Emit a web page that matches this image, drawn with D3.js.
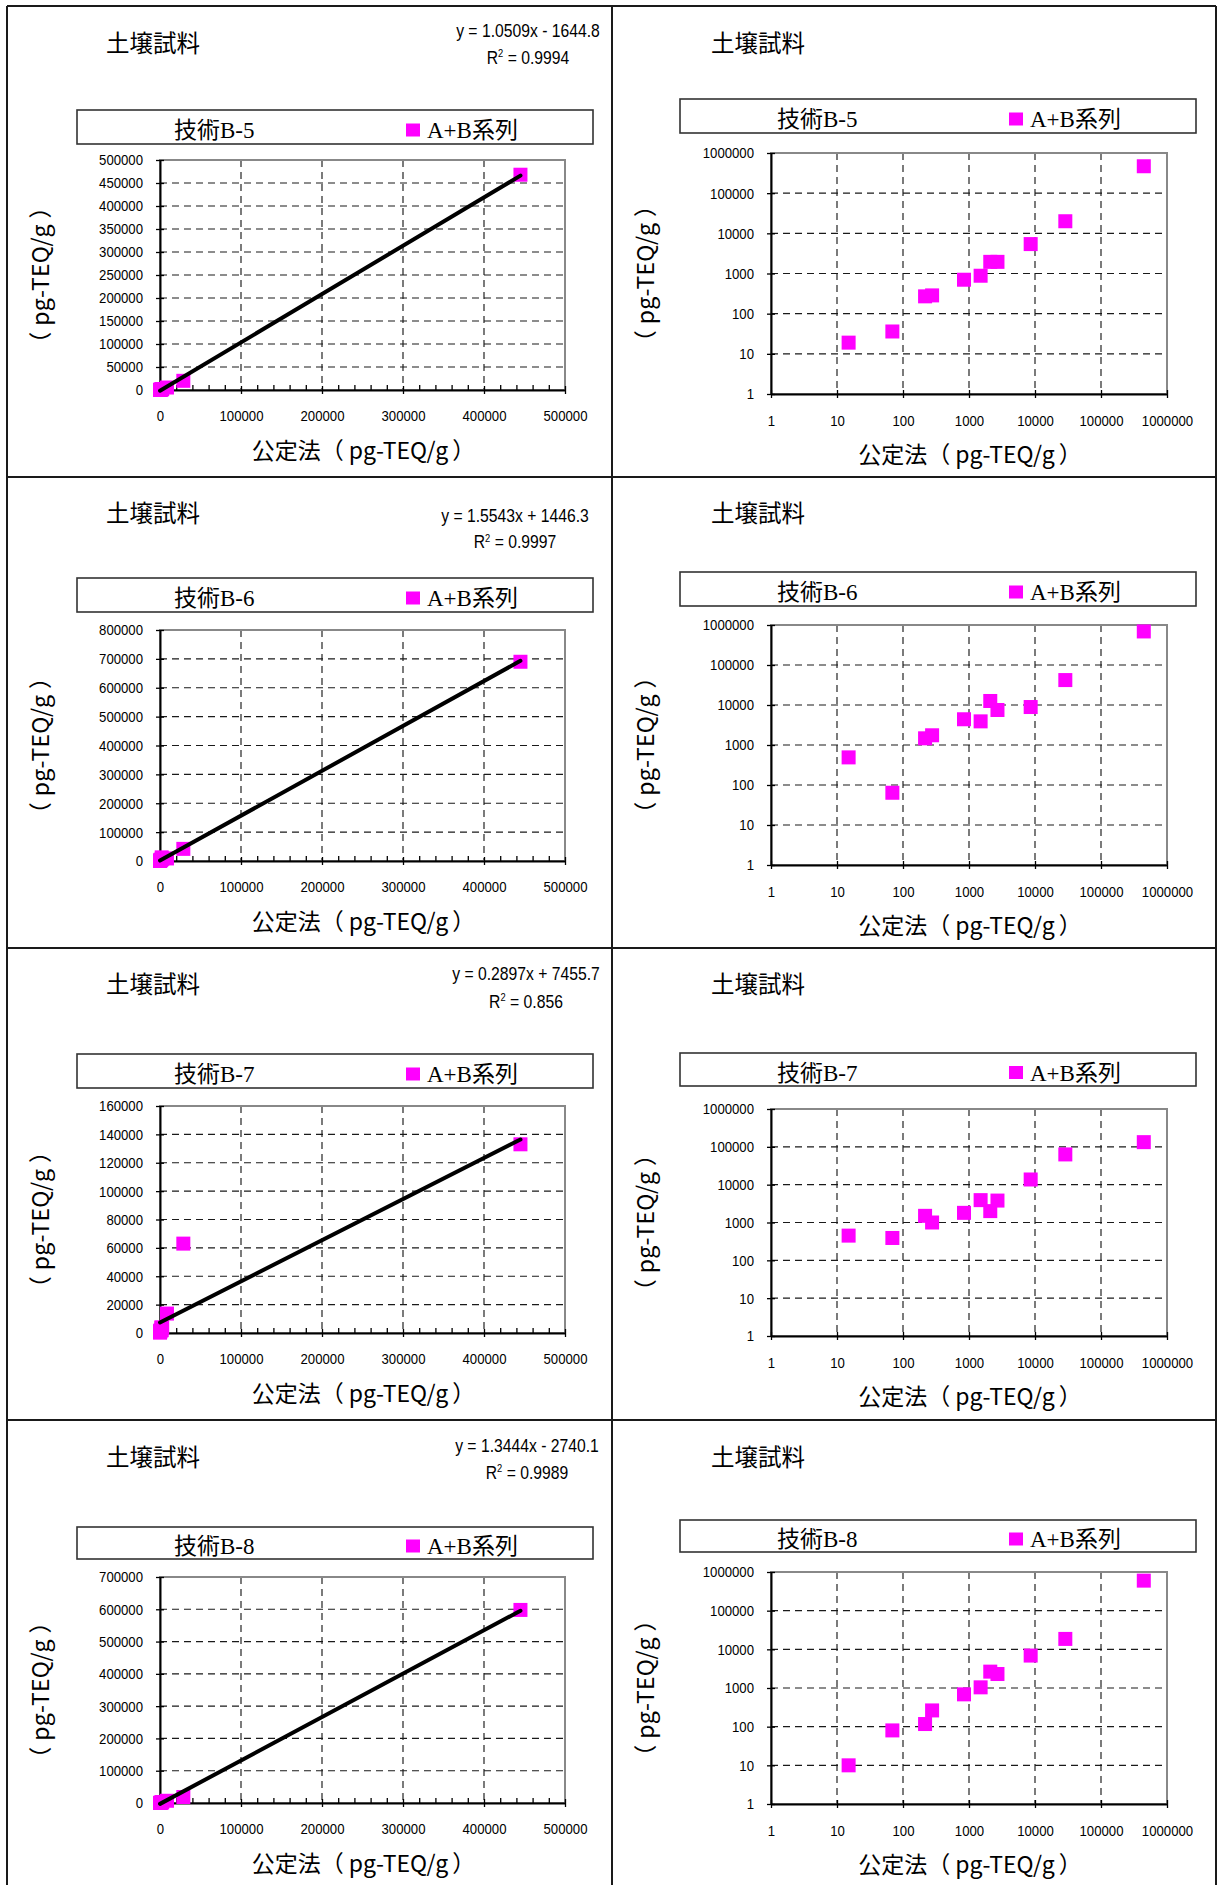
<!DOCTYPE html>
<html>
<head>
<meta charset="utf-8">
<script src="https://cdn.jsdelivr.net/npm/d3@7/dist/d3.min.js"></script>
<style>
  html, body { margin: 0; padding: 0; background: #fff; }
  svg { display: block; }
</style>
</head>
<body>
<div id="chart"></div>
<script>
// ---------------- DATA ----------------
const sampleTitle = "土壌試料";
const seriesName = "A+B系列";
const xAxisTitleParts = ["公定法", "（", "pg-TEQ/g", "）"];
const yAxisTitleParts = ["（", "pg-TEQ/g", "）"];
const chartNames = ["技術B-5", "技術B-6", "技術B-7", "技術B-8"];

// official method values (x), shared by all charts
const officialX = [15, 69, 216, 276, 840, 1500, 2100, 2700, 8600, 28800, 445000];
// technique values (y)
const techB5 = [19, 36, 270, 285, 700, 880, 1950, 1950, 5400, 20000, 468000];
const techB6 = [490, 64, 1470, 1750, 4400, 3900, 12600, 7500, 8900, 42000, 690000];
const techB7 = [450, 390, 1500, 1000, 1800, 3900, 2000, 3800, 13700, 63000, 133000];
const techB8 = [10, 80, 117, 263, 685, 1040, 2650, 2300, 6900, 18600, 598000];
const techSeries = [techB5, techB6, techB7, techB8];

// regression (as printed on the charts)
const slopes = [1.0509, 1.5543, 0.2897, 1.3444];
const intercepts = [-1644.8, 1446.3, 7455.7, -2740.1];
const eqLabels = ["y = 1.0509x - 1644.8", "y = 1.5543x + 1446.3", "y = 0.2897x + 7455.7", "y = 1.3444x - 2740.1"];
const r2Labels = ["0.9994", "0.9997", "0.856", "0.9989"];

// linear axes
const xLinMax = 500000, xLinStep = 100000, xMinorStep = 20000;
const yLinMax = [500000, 800000, 160000, 700000];
const yLinStep = [50000, 100000, 20000, 100000];
// log axes
const logTicks = [1, 10, 100, 1000, 10000, 100000, 1000000];

// ---------------- LAYOUT ----------------
const W = 1218, H = 1885;
const rows = [
  {cellTop: 6,    titleY: 43,   eqY: 31,   r2Y: 58,   eqX: 528, legL: [110, 144],   plotL: [160, 390],   legR: [99, 133],    plotR: [153, 394]},
  {cellTop: 477,  titleY: 513,  eqY: 516,  r2Y: 542,  eqX: 515, legL: [578, 612],   plotL: [630, 861],   legR: [572, 606],   plotR: [625, 865]},
  {cellTop: 948,  titleY: 984,  eqY: 974,  r2Y: 1002, eqX: 526, legL: [1054, 1088], plotL: [1106, 1333], legR: [1053, 1086], plotR: [1109, 1336]},
  {cellTop: 1420, titleY: 1457, eqY: 1446, r2Y: 1473, eqX: 527, legL: [1527, 1559], plotL: [1577, 1803], legR: [1520, 1552], plotR: [1572, 1804]}
];
const colL = {cell: 7,   plotX: [160, 565], legX: [77, 593]};
const colR = {cell: 612, plotX: [771, 1167], legX: [680, 1196]};

const MAGENTA = "#FF00FF";
const CJK = "'Noto Sans CJK JP', 'Noto Sans CJK SC', sans-serif";
const SERIF_CJK = "'Liberation Serif', 'Noto Sans CJK JP', serif";

const svg = d3.select("#chart").append("svg").attr("width", W).attr("height", H);
svg.append("rect").attr("width", W).attr("height", H).attr("fill", "#fff");

// condensed sans text: Liberation Sans squeezed horizontally around its anchor
function narrow(sel, size, k) {
  k = k || 0.85;
  sel.style("font-family", "'Liberation Sans', Arial, sans-serif")
     .style("font-size", size + "px").attr("fill", "#000");
  sel.each(function () {
    const t = d3.select(this);
    const x = +t.attr("x") || 0, y = +t.attr("y") || 0;
    t.attr("transform", `translate(${x},${y}) scale(${k},1) translate(${-x},${-y})`);
  });
}

// ---------------- FRAME ----------------
const frame = svg.append("g").attr("stroke", "#1a1a1a").attr("stroke-width", 2);
[7, 612, 1216].forEach(x => frame.append("line").attr("x1", x).attr("x2", x).attr("y1", 6).attr("y2", H));
[6, 477, 948, 1420].forEach(y => frame.append("line").attr("x1", 7).attr("x2", 1216).attr("y1", y).attr("y2", y));

function range(a, b, s) { const r = []; for (let v = a; v <= b + 1e-9; v += s) r.push(v); return r; }

function drawCommon(g, col, row, plotY, legY, idx) {
  // title
  g.append("text").attr("x", col.cell + 99).attr("y", row.titleY + 8.5)
    .style("font-family", CJK).style("font-size", "23.5px").text(sampleTitle);
  // legend box
  g.append("rect").attr("x", col.legX[0]).attr("y", legY[0])
    .attr("width", col.legX[1] - col.legX[0]).attr("height", legY[1] - legY[0])
    .attr("fill", "none").attr("stroke", "#333").attr("stroke-width", 1.6);
  const lc = (legY[0] + legY[1]) / 2 + 3;
  g.append("text").attr("x", col.legX[0] + 97).attr("y", lc + 8)
    .style("font-family", SERIF_CJK).style("font-size", "23px").text(chartNames[idx]);
  g.append("rect").attr("x", col.legX[0] + 329).attr("y", lc - 6.5).attr("width", 14).attr("height", 13).attr("fill", MAGENTA);
  g.append("text").attr("x", col.legX[0] + 350).attr("y", lc + 8)
    .style("font-family", SERIF_CJK).style("font-size", "23px").text(seriesName);
  // x axis title
  const pcx = (col.plotX[0] + col.plotX[1]) / 2 + 1;
  const xt = g.append("text").attr("x", pcx).attr("y", plotY[1] + 61 + 8).attr("text-anchor", "middle")
    .style("font-family", CJK).style("font-size", "23px");
  xt.append("tspan").text(xAxisTitleParts[0]);
  xt.append("tspan").attr("dx", 0).text(xAxisTitleParts[1]);
  xt.append("tspan").attr("dx", 5).text(xAxisTitleParts[2]);
  xt.append("tspan").attr("dx", 4).text(xAxisTitleParts[3]);
  // y axis title
  const pcy = (plotY[0] + plotY[1]) / 2;
  const yt = g.append("text").attr("transform", `translate(${col.cell + 34 + 8},${pcy}) rotate(-90)`)
    .attr("text-anchor", "middle")
    .style("font-family", CJK).style("font-size", "23px");
  yt.append("tspan").text(yAxisTitleParts[0]);
  yt.append("tspan").attr("dx", 6).style("letter-spacing", "0.2px").text(yAxisTitleParts[1]);
  yt.append("tspan").attr("dx", 6).text(yAxisTitleParts[2]);
}

function gridStyle(sel) {
  sel.attr("stroke", "#1a1a1a").attr("stroke-width", 1.15).attr("stroke-dasharray", "7,5");
}

function styleAxis(ax) {
  ax.select(".domain").attr("stroke", "#000").attr("stroke-width", 2);
  ax.selectAll(".tick line").attr("stroke", "#000").attr("stroke-width", 1.3);
}

// ---------------- LINEAR CHART ----------------
function drawLinear(idx) {
  const row = rows[idx], col = colL;
  const g = svg.append("g");
  drawCommon(g, col, row, row.plotL, row.legL, idx);
  const [top, bottom] = row.plotL;
  const x = d3.scaleLinear().domain([0, xLinMax]).range(col.plotX);
  const y = d3.scaleLinear().domain([0, yLinMax[idx]]).range([bottom, top]);
  const yT = range(0, yLinMax[idx], yLinStep[idx]);
  const xT = range(0, xLinMax, xLinStep);
  const xMinor = range(0, xLinMax, xMinorStep).filter(v => v % xLinStep !== 0);

  // grid
  const grid = g.append("g");
  grid.selectAll("line.h").data(yT.slice(1, -1)).join("line")
    .attr("x1", col.plotX[0]).attr("x2", col.plotX[1]).attr("y1", d => y(d)).attr("y2", d => y(d)).call(gridStyle);
  grid.selectAll("line.v").data(xT.slice(1, -1)).join("line")
    .attr("y1", top).attr("y2", bottom).attr("x1", d => x(d)).attr("x2", d => x(d)).call(gridStyle);
  // plot border
  g.append("rect").attr("x", col.plotX[0]).attr("y", top).attr("width", col.plotX[1] - col.plotX[0])
    .attr("height", bottom - top).attr("fill", "none").attr("stroke", "#888").attr("stroke-width", 2);

  // axes
  const ay = g.append("g").attr("transform", `translate(${col.plotX[0]},0)`)
    .call(d3.axisLeft(y).tickValues(yT).tickFormat(d3.format("d")).tickSize(4).tickSizeOuter(0).tickPadding(13));
  ay.selectAll(".tick line").attr("x1", 4);
  styleAxis(ay);
  ay.selectAll("text").call(narrow, 15.5);

  const ax = g.append("g").attr("transform", `translate(0,${bottom})`)
    .call(d3.axisBottom(x).tickValues(xT).tickFormat(d3.format("d")).tickSize(4).tickSizeOuter(0).tickPadding(16));
  ax.selectAll(".tick line").attr("y1", -4);
  styleAxis(ax);
  ax.selectAll("text").call(narrow, 15.5);
  const axm = g.append("g").attr("transform", `translate(0,${bottom})`)
    .call(d3.axisBottom(x).tickValues(xMinor).tickFormat("").tickSize(-5).tickSizeOuter(0));
  axm.select(".domain").remove();
  axm.selectAll(".tick line").attr("stroke", "#000").attr("stroke-width", 1.3);

  // markers
  const pts = officialX.map((v, i) => [v, techSeries[idx][i]]);
  g.append("g").selectAll("rect").data(pts).join("rect")
    .attr("x", d => x(d[0]) - 7).attr("y", d => y(d[1]) - 7)
    .attr("width", 14).attr("height", 14).attr("fill", MAGENTA);

  // regression line
  const xs = d3.extent(officialX);
  const line = d3.line().x(d => x(d)).y(d => y(slopes[idx] * d + intercepts[idx]));
  g.append("path").attr("d", line(xs)).attr("stroke", "#000").attr("stroke-width", 4)
    .attr("fill", "none").attr("stroke-linecap", "round");

  // equation
  const eq = g.append("text").attr("x", row.eqX).attr("y", row.eqY + 6.5).attr("text-anchor", "middle").text(eqLabels[idx]);
  narrow(eq, 18.5);
  const r2 = g.append("text").attr("x", row.eqX).attr("y", row.r2Y + 6.5).attr("text-anchor", "middle");
  r2.append("tspan").text("R");
  r2.append("tspan").attr("dy", -7).style("font-size", "11px").text("2");
  r2.append("tspan").attr("dy", 7).text(" = " + r2Labels[idx]);
  narrow(r2, 18.5);
}

// ---------------- LOG CHART ----------------
function drawLog(idx) {
  const row = rows[idx], col = colR;
  const g = svg.append("g");
  drawCommon(g, col, row, row.plotR, row.legR, idx);
  const [top, bottom] = row.plotR;
  const x = d3.scaleLog().domain([1, 1e6]).range(col.plotX);
  const y = d3.scaleLog().domain([1, 1e6]).range([bottom, top]);

  const grid = g.append("g");
  grid.selectAll("line.h").data(logTicks.slice(1, -1)).join("line")
    .attr("x1", col.plotX[0]).attr("x2", col.plotX[1]).attr("y1", d => y(d)).attr("y2", d => y(d)).call(gridStyle);
  grid.selectAll("line.v").data(logTicks.slice(1, -1)).join("line")
    .attr("y1", top).attr("y2", bottom).attr("x1", d => x(d)).attr("x2", d => x(d)).call(gridStyle);
  g.append("rect").attr("x", col.plotX[0]).attr("y", top).attr("width", col.plotX[1] - col.plotX[0])
    .attr("height", bottom - top).attr("fill", "none").attr("stroke", "#888").attr("stroke-width", 2);

  const ay = g.append("g").attr("transform", `translate(${col.plotX[0]},0)`)
    .call(d3.axisLeft(y).tickValues(logTicks).tickFormat(d3.format("d")).tickSize(4).tickSizeOuter(0).tickPadding(13));
  ay.selectAll(".tick line").attr("x1", 4);
  styleAxis(ay);
  ay.selectAll("text").call(narrow, 15.5);

  const ax = g.append("g").attr("transform", `translate(0,${bottom})`)
    .call(d3.axisBottom(x).tickValues(logTicks).tickFormat(d3.format("d")).tickSize(4).tickSizeOuter(0).tickPadding(17));
  ax.selectAll(".tick line").attr("y1", -4);
  styleAxis(ax);
  ax.selectAll("text").call(narrow, 15.5);

  const pts = officialX.map((v, i) => [v, techSeries[idx][i]]);
  g.append("g").selectAll("rect").data(pts).join("rect")
    .attr("x", d => x(d[0]) - 7).attr("y", d => y(d[1]) - 7)
    .attr("width", 14).attr("height", 14).attr("fill", MAGENTA);
}

for (let i = 0; i < 4; i++) { drawLinear(i); drawLog(i); }
</script>
</body>
</html>
